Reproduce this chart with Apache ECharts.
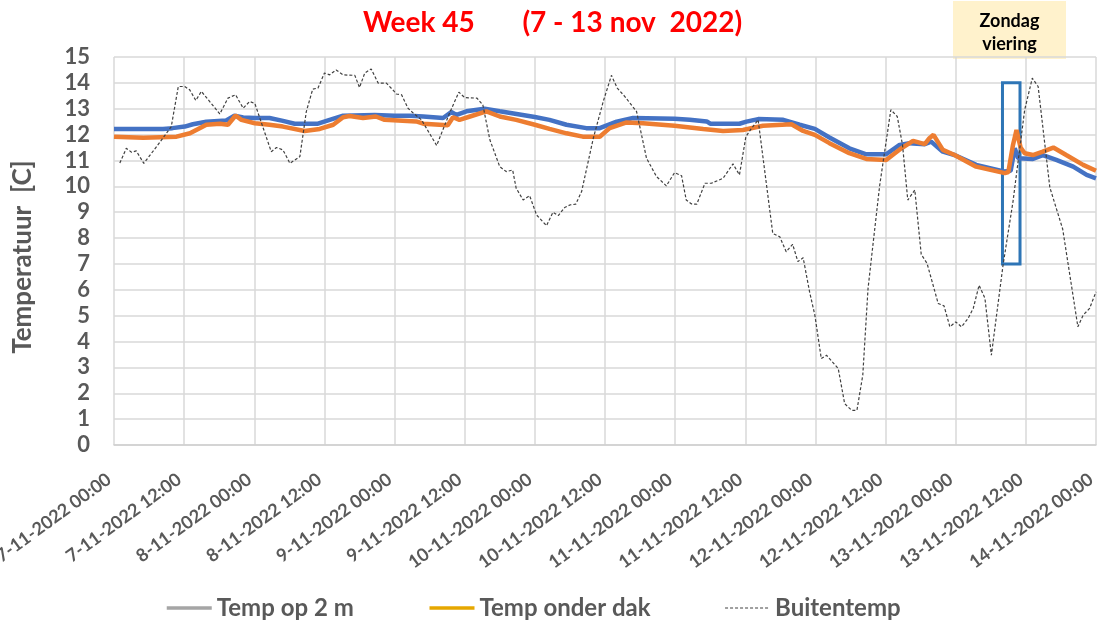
<!DOCTYPE html>
<html>
<head>
<meta charset="utf-8">
<script src="https://cdn.jsdelivr.net/npm/echarts@6/dist/echarts.min.js"></script>
<style>
  html, body { margin: 0; padding: 0; background: #ffffff; }
  #chart { width: 1105px; height: 624px; }
</style>
</head>
<body>
<div id="chart"></div>
<script>
// Hours since 7-11-2022 00:00 and temperatures in degrees C
const tickLabels = [
  '7-11-2022 00:00', '7-11-2022 12:00', '8-11-2022 00:00', '8-11-2022 12:00',
  '9-11-2022 00:00', '9-11-2022 12:00', '10-11-2022 00:00', '10-11-2022 12:00',
  '11-11-2022 00:00', '11-11-2022 12:00', '12-11-2022 00:00', '12-11-2022 12:00',
  '13-11-2022 00:00', '13-11-2022 12:00', '14-11-2022 00:00'
];

const temp2mHours = [0,8.4,10,12.1,13.5,15.8,19.2,20.6,22.1,24.1,26.6,28.9,30.9,34.9,36.9,39.2,44.6,48,50.6,52.9,56.3,57.7,58.6,60.3,63.4,66,72,74.5,77.4,80.8,83.1,86,88.8,95.9,98.5,101.4,102,107,108.2,110.2,114.5,117.3,119.9,122.4,125.8,128.7,132.1,134.4,136.1,138.7,139.8,141.8,143.8,147.5,152.4,153.4,154.1,154.7,157.2,158.9,161.2,164.1,166.4,168];
const temp2mValues = [12.22,12.22,12.25,12.31,12.4,12.5,12.55,12.73,12.66,12.64,12.64,12.53,12.42,12.42,12.57,12.73,12.76,12.73,12.73,12.7,12.64,12.87,12.76,12.9,13.0,12.9,12.68,12.57,12.38,12.25,12.25,12.5,12.64,12.61,12.57,12.51,12.42,12.42,12.5,12.6,12.57,12.38,12.22,11.89,11.47,11.24,11.24,11.6,11.67,11.63,11.73,11.34,11.21,10.83,10.57,10.6,11.47,11.09,11.06,11.21,11.02,10.76,10.44,10.31];

const dakHours = [0,5,10.7,13,15.8,18.1,19.5,20.8,21.8,24.1,26.6,28.9,32.6,35.2,37.5,39.2,40.3,42.6,44.8,46.3,51.7,52.9,57.1,58,59.1,60.9,63.7,66,68.8,72,74.5,77.4,80.2,83.1,84.8,87.7,90.5,95.9,100.8,104.2,107.6,111,115.9,117.9,119.9,122.4,125.8,128.7,132.1,134.7,136.7,138.7,139.5,140.2,141.8,143.8,147.5,152.4,153,153.8,154.4,155.1,155.8,157.2,158.9,160.7,162.9,165.8,168];
const dakValues = [11.92,11.88,11.92,12.05,12.38,12.42,12.38,12.74,12.57,12.44,12.38,12.31,12.14,12.22,12.38,12.67,12.72,12.64,12.7,12.57,12.51,12.42,12.36,12.67,12.57,12.7,12.9,12.7,12.57,12.38,12.22,12.05,11.92,11.92,12.25,12.47,12.44,12.34,12.22,12.14,12.18,12.34,12.4,12.14,11.99,11.67,11.28,11.06,11.02,11.47,11.76,11.63,11.86,11.99,11.41,11.21,10.76,10.51,10.55,11.6,12.18,11.5,11.28,11.21,11.34,11.5,11.21,10.83,10.6];

const buitenHours = [1,2.1,3,3.8,5.1,7.5,9.8,11,12.1,12.95,14,14.95,18.1,19.5,20.8,22.1,23.2,24.1,26.9,27.8,28.9,30.1,31.8,32.9,34,34.9,36,36.9,38,39.2,41.2,42,42.9,44,45.2,46.6,47.7,48.3,49.2,50.3,51.2,52.6,55.2,57.4,59,60,62.1,63.1,64.3,66,67.1,68.2,68.8,70,71.1,72.3,74,75.1,76,77.1,78,79,80,82,83.7,85.1,86.1,87.4,89.4,91.1,92.8,94.5,95.9,97.1,97.9,98.8,99.7,101.1,102.2,104.2,105.9,107,108.1,109,110.2,112.7,113.9,115,116.1,117,117.9,119,119.9,121,121.9,123.9,125,126.2,127.1,128.1,129,129.9,131,132.9,134,134.9,135.8,137,138.1,139.1,141,142,143,144,145,146.1,147,148,149,150.1,152.1,153.8,155.8,157.1,158.1,160.1,162.3,164.9,165.8,166.9,168];
const buitenValues = [10.9,11.47,11.32,11.37,10.89,11.6,12.31,13.86,13.86,13.73,13.32,13.67,12.8,13.41,13.54,13.02,13.28,13.2,11.34,11.5,11.41,10.89,11.15,12.89,13.76,13.8,14.38,14.31,14.5,14.31,14.29,13.82,14.38,14.54,13.99,13.99,13.73,13.57,13.54,13.02,12.83,12.57,11.58,12.83,13.64,13.43,13.41,13.15,11.8,10.76,10.57,10.63,9.93,9.47,9.64,8.89,8.48,9.0,8.87,9.18,9.28,9.31,9.8,11.86,13.28,14.29,13.8,13.47,12.89,11.09,10.38,10.02,10.53,10.41,9.47,9.32,9.31,10.12,10.12,10.31,10.87,10.44,11.92,12.22,12.57,8.18,8.05,7.47,7.76,7.09,7.24,5.92,5.02,3.34,3.47,2.96,1.6,1.34,1.34,2.7,6.05,7.86,10.05,12.96,12.7,11.6,9.47,9.86,7.37,7.02,5.47,5.38,4.57,4.76,4.57,4.89,5.28,6.18,5.67,3.47,6.96,9.41,12.96,14.18,13.86,9.96,8.35,4.57,5.02,5.28,5.92];

// Sunday service window (13-11 08:00 - 11:00)
const serviceHours = [152, 155];
const serviceRange = [7, 14];

function pairs(xs, ys) { return xs.map((x, i) => [x, ys[i]]); }

const labelGrey = '#595959';
const gridGrey = '#D9D9D9';
const font = 'Lato, "Open Sans", sans-serif';

const chart = echarts.init(document.getElementById('chart'), null, { renderer: 'canvas' });

chart.setOption({
  backgroundColor: '#ffffff',
  animation: false,
  title: {
    text: 'Week 45       (7 - 13 nov  2022)',
    left: 'center',
    top: 4,
    textStyle: { color: '#FF0000', fontSize: 28, fontWeight: 'bold', fontFamily: font }
  },
  grid: { left: 114, right: 9, top: 57, bottom: 179, containLabel: false, outerBoundsMode: 'none' },
  legend: {
    top: 591,
    left: 160,
    itemGap: 74,
    itemWidth: 45,
    itemHeight: 14,
    textStyle: { color: labelGrey, fontSize: 24, fontWeight: 'bold', fontFamily: font },
    data: [
      { name: 'Temp op 2 m', lineStyle: { color: '#A5A5A5', width: 3.5 }, itemStyle: { color: '#A5A5A5', opacity: 0 } },
      { name: 'Temp onder dak', lineStyle: { color: '#E6A700', width: 3.5 }, itemStyle: { color: '#E6A700', opacity: 0 } },
      { name: 'Buitentemp', lineStyle: { color: '#404040', width: 1 }, itemStyle: { color: '#404040', opacity: 0 } }
    ]
  },
  xAxis: {
    type: 'value',
    min: 0,
    max: 168,
    interval: 12,
    axisLine: { show: true, lineStyle: { color: '#D0D0D0', width: 1.5 } },
    axisTick: { show: false },
    splitLine: { show: true, lineStyle: { color: gridGrey, width: 1.5 } },
    axisLabel: {
      rotate: 36,
      margin: 29,
      padding: [0, 6, 0, 0],
      color: labelGrey,
      fontSize: 18,
      fontWeight: 'bold',
      fontFamily: font,
      formatter: v => tickLabels[Math.round(v / 12)] || ''
    }
  },
  yAxis: {
    type: 'value',
    min: 0,
    max: 15,
    interval: 1,
    name: 'Temperatuur  [C]',
    nameLocation: 'middle',
    nameGap: 78,
    nameTextStyle: { color: labelGrey, fontSize: 26, fontWeight: 'bold', fontFamily: font, padding: [0, 12, 0, 0] },
    axisLine: { show: false },
    axisTick: { show: false },
    splitLine: { show: true, lineStyle: { color: gridGrey, width: 1.5 } },
    axisLabel: { margin: 24, color: labelGrey, fontSize: 22, fontWeight: 'bold', fontFamily: font }
  },
  series: [
    {
      name: 'Temp op 2 m',
      type: 'line',
      data: pairs(temp2mHours, temp2mValues),
      showSymbol: false,
      symbol: 'none',
      lineStyle: { color: '#4472C4', width: 4.5 },
      itemStyle: { color: '#4472C4' },
      z: 2
    },
    {
      name: 'Temp onder dak',
      type: 'line',
      data: pairs(dakHours, dakValues),
      showSymbol: false,
      symbol: 'none',
      lineStyle: { color: '#ED7D31', width: 4.5 },
      itemStyle: { color: '#ED7D31' },
      z: 3,
      markArea: {
        silent: true,
        itemStyle: { color: 'rgba(0,0,0,0)', borderColor: '#2E75B6', borderWidth: 3 },
        data: [[
          { xAxis: serviceHours[0], yAxis: serviceRange[1] },
          { xAxis: serviceHours[1], yAxis: serviceRange[0] }
        ]]
      }
    },
    {
      name: 'Buitentemp',
      type: 'line',
      data: pairs(buitenHours, buitenValues),
      showSymbol: false,
      symbol: 'none',
      lineStyle: { color: '#404040', width: 1.2, type: [3, 2] },
      itemStyle: { color: '#404040' },
      z: 4
    }
  ],
  graphic: [
    {
      type: 'group',
      left: 953,
      top: 1,
      children: [
        { type: 'rect', shape: { x: 0, y: 0, width: 113, height: 58 }, style: { fill: '#FFF2CC' } },
        {
          type: 'text',
          style: {
            x: 56.5, y: 32,
            text: 'Zondag\nviering',
            align: 'center',
            verticalAlign: 'middle',
            lineHeight: 23,
            fill: '#000000',
            font: 'bold 18px ' + font
          }
        }
      ]
    }
  ]
});
</script>
</body>
</html>
